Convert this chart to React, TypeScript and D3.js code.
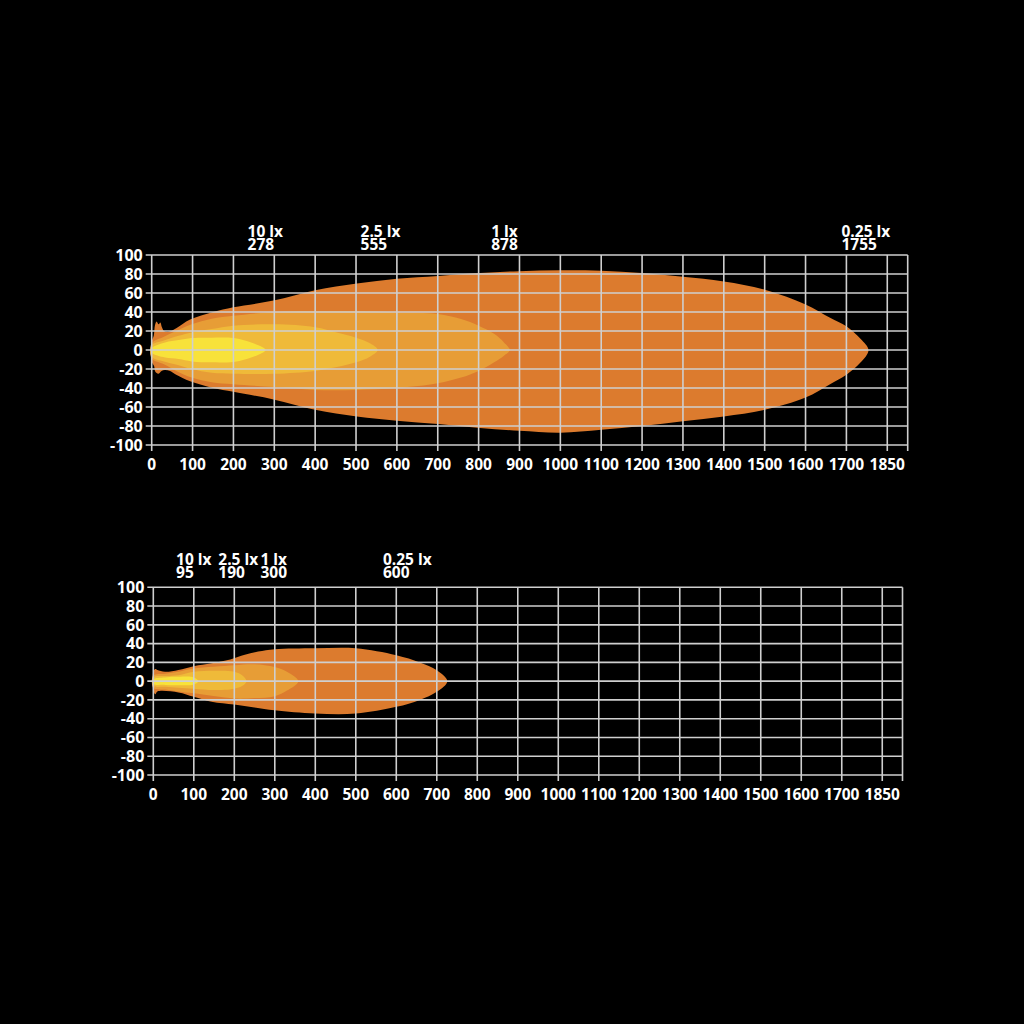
import * as d3 from 'd3'
import { useEffect, useRef } from 'react'

type Pt = [number, number]

// axes
const xTickValues = [0, 100, 200, 300, 400, 500, 600, 700, 800, 900, 1000, 1100, 1200, 1300, 1400, 1500, 1600, 1700, 1800]
const xTickLabels = ['0', '100', '200', '300', '400', '500', '600', '700', '800', '900', '1000', '1100', '1200', '1300', '1400', '1500', '1600', '1700', '1850']
const yTickValues = [100, 80, 60, 40, 20, 0, -20, -40, -60, -80, -100]
const xMax = 1850

// zone colours, outermost first: 0.25 lx, 1 lx, 2.5 lx, 10 lx
const zoneColors = ['#dc7b2e', '#e79d36', '#efba39', '#f8e23a']

// top chart
const topLevels = ['10 lx', '2.5 lx', '1 lx', '0.25 lx']
const topDistances = [278, 555, 878, 1755]

const topUpper025: Pt[] = [[0, 9], [5, 15], [8, 26], [12, 30], [17, 27], [21, 29], [25, 24], [30, 20], [40, 19], [60, 23], [94, 32], [150, 40], [200, 45], [298, 52], [400, 63], [502, 70], [600, 75], [701, 78], [803, 81], [900, 83], [1000, 84], [1100, 83.5], [1200, 81], [1300, 77], [1400, 72], [1500, 63.5], [1600, 48], [1660, 34], [1700, 25], [1735, 11.5], [1754, 0]]
const topLower025: Pt[] = [[0, -12], [6, -17], [9, -23], [16, -25], [24, -22], [32, -21], [45, -22], [60, -26], [94, -33], [150, -40], [200, -44], [298, -52], [400, -63], [502, -70], [600, -74.5], [701, -78], [803, -82], [900, -85], [1000, -87], [1100, -84], [1200, -80], [1300, -75], [1400, -70], [1500, -63], [1600, -50], [1660, -36], [1700, -26], [1735, -13]]

const topUpper1: Pt[] = [[0, 7], [30, 14], [60, 20], [98, 27], [147, 33], [200, 36], [300, 40], [400, 41], [500, 41], [600, 39.6], [700, 38], [757, 32.6], [800, 25.6], [838, 17], [862, 8], [876, 0]]
const topLower1: Pt[] = [[0, -9], [30, -15], [60, -22], [98, -29], [147, -34], [200, -36], [300, -39], [400, -42], [500, -42], [600, -40], [700, -35], [757, -29], [800, -22], [838, -13], [862, -6]]

const topUpper25: Pt[] = [[0, 5], [30, 10], [66, 15], [98, 18.5], [147, 22], [200, 25.6], [300, 27], [400, 24], [453, 18.5], [500, 13], [534, 7], [553, 0]]
const topLower25: Pt[] = [[0, -7], [30, -12], [66, -16], [98, -20], [147, -24], [200, -25], [300, -25], [400, -22], [453, -18], [500, -13], [534, -7]]

const topUpper10: Pt[] = [[0, 2], [33, 8], [66, 10.5], [98, 12.6], [147, 13], [200, 12.6], [228, 10], [261, 5], [279, 0]]
const topLower10: Pt[] = [[0, -3], [33, -8], [66, -9.5], [98, -12], [147, -13], [200, -12.5], [228, -10], [261, -5]]

// bottom chart
const bottomLevels = ['10 lx', '2.5 lx', '1 lx', '0.25 lx']
const bottomDistances = [95, 190, 300, 600]

const bottomUpper025: Pt[] = [[0, 10], [5, 13], [10, 12], [29, 10], [62, 12], [100, 16], [144, 19], [190, 23], [226, 28], [259, 31.5], [300, 34], [400, 35], [500, 35], [600, 27.6], [658, 20], [700, 11.7], [726, 0]]
const bottomLower025: Pt[] = [[0, -10], [5, -14], [10, -11], [62, -12], [100, -16.7], [144, -22], [200, -25], [250, -28], [300, -31], [400, -34.5], [500, -34.5], [600, -27.4], [658, -20], [700, -11.4]]

const bottomUpper1: Pt[] = [[0, 6], [30, 8], [62, 10], [100, 13.4], [200, 17], [250, 18], [300, 15], [330, 10], [358, 0]]
const bottomLower1: Pt[] = [[0, -7], [30, -9], [62, -11], [100, -13], [200, -18.5], [250, -18], [300, -16], [330, -10]]

const bottomUpper25: Pt[] = [[0, 4], [30, 5.5], [62, 6.4], [100, 10], [150, 11], [200, 10], [220, 6], [230, 0]]
const bottomLower25: Pt[] = [[0, -5], [30, -6], [62, -7], [100, -8], [150, -9.5], [200, -8], [220, -5]]

const bottomUpper10: Pt[] = [[0, 2], [29, 4], [62, 4.6], [100, 4], [111, 0]]
const bottomLower10: Pt[] = [[0, -3], [29, -4], [62, -4.3], [100, -3.5]]

interface ChartConfig {
  left: number
  right: number
  top: number
  bottom: number
  headerGap: number
  headerNudge: number[]
  levels: string[]
  distances: number[]
  zones: [Pt[], Pt[]][]
}

const charts: ChartConfig[] = [
  {
    left: 151.7,
    right: 907.7,
    top: 255,
    bottom: 445,
    headerGap: 18.5,
    headerNudge: [0, 2, -6, -3],
    levels: topLevels,
    distances: topDistances,
    zones: [
      [topUpper025, topLower025],
      [topUpper1, topLower1],
      [topUpper25, topLower25],
      [topUpper10, topLower10],
    ],
  },
  {
    left: 153.3,
    right: 902.5,
    top: 587.3,
    bottom: 775,
    headerGap: 22.3,
    headerNudge: [2, 8, -1, 11],
    levels: bottomLevels,
    distances: bottomDistances,
    zones: [
      [bottomUpper025, bottomLower025],
      [bottomUpper1, bottomLower1],
      [bottomUpper25, bottomLower25],
      [bottomUpper10, bottomLower10],
    ],
  },
]

const FONT = '"Open Sans", "DejaVu Sans", sans-serif'
const GRID = '#cfcfcf'

const App = () => {
  const ref = useRef<SVGSVGElement>(null)

  useEffect(() => {
    const svg = d3.select(ref.current)
    svg.selectAll('*').remove()

    svg.append('rect').attr('width', 1024).attr('height', 1024).attr('fill', '#000')

    charts.forEach((c) => {
      const x = d3.scaleLinear().domain([0, xMax]).range([c.left, c.right])
      const y = d3.scaleLinear().domain([-100, 100]).range([c.bottom, c.top])
      const g = svg.append('g')

      const line = d3
        .line<Pt>()
        .x((d) => x(d[0]))
        .y((d) => y(d[1]))
        .curve(d3.curveCatmullRomClosed.alpha(0.5))

      c.zones.forEach(([upper, lower], i) => {
        const pts = upper.concat(lower.slice().reverse())
        g.append('path').attr('d', line(pts)).attr('fill', zoneColors[i])
      })

      // grid on top of the beam
      const grid = g.append('g').attr('stroke', GRID).attr('stroke-width', 1.6)
      xTickValues.concat([xMax]).forEach((v) => {
        grid
          .append('line')
          .attr('x1', x(v))
          .attr('x2', x(v))
          .attr('y1', y(100))
          .attr('y2', y(-100) + 6)
      })
      yTickValues.forEach((v) => {
        grid
          .append('line')
          .attr('x1', x(0) - 6)
          .attr('x2', x(xMax))
          .attr('y1', y(v))
          .attr('y2', y(v))
      })

      const text = g
        .append('g')
        .attr('fill', '#fff')
        .attr('font-family', FONT)
        .attr('font-weight', 700)
        .attr('font-size', 15.5)

      xTickValues.forEach((v, i) => {
        text
          .append('text')
          .attr('x', x(v))
          .attr('y', y(-100) + 25)
          .attr('text-anchor', 'middle')
          .text(xTickLabels[i])
      })
      yTickValues.forEach((v) => {
        text
          .append('text')
          .attr('x', x(0) - 9)
          .attr('y', y(v))
          .attr('dy', '0.36em')
          .attr('font-size', 16)
          .attr('text-anchor', 'end')
          .text(String(v))
      })

      // two-line header: level on top, distance below, both starting at the same x
      c.levels.forEach((lvl, i) => {
        const cx = x(c.distances[i]) + c.headerNudge[i]
        const t = text.append('text').attr('y', c.top - c.headerGap)
        const t1 = t.append('tspan').attr('x', cx).text(lvl)
        const w = (t1.node() as SVGTSpanElement).getComputedTextLength()
        t1.attr('x', cx - w / 2)
        t.append('tspan')
          .attr('x', cx - w / 2)
          .attr('dy', 13.3)
          .text(String(c.distances[i]))
      })
    })
  }, [])

  return (
    <svg
      ref={ref}
      width={1024}
      height={1024}
      style={{ position: 'absolute', left: 0, top: 0, display: 'block' }}
    />
  )
}

export default App
